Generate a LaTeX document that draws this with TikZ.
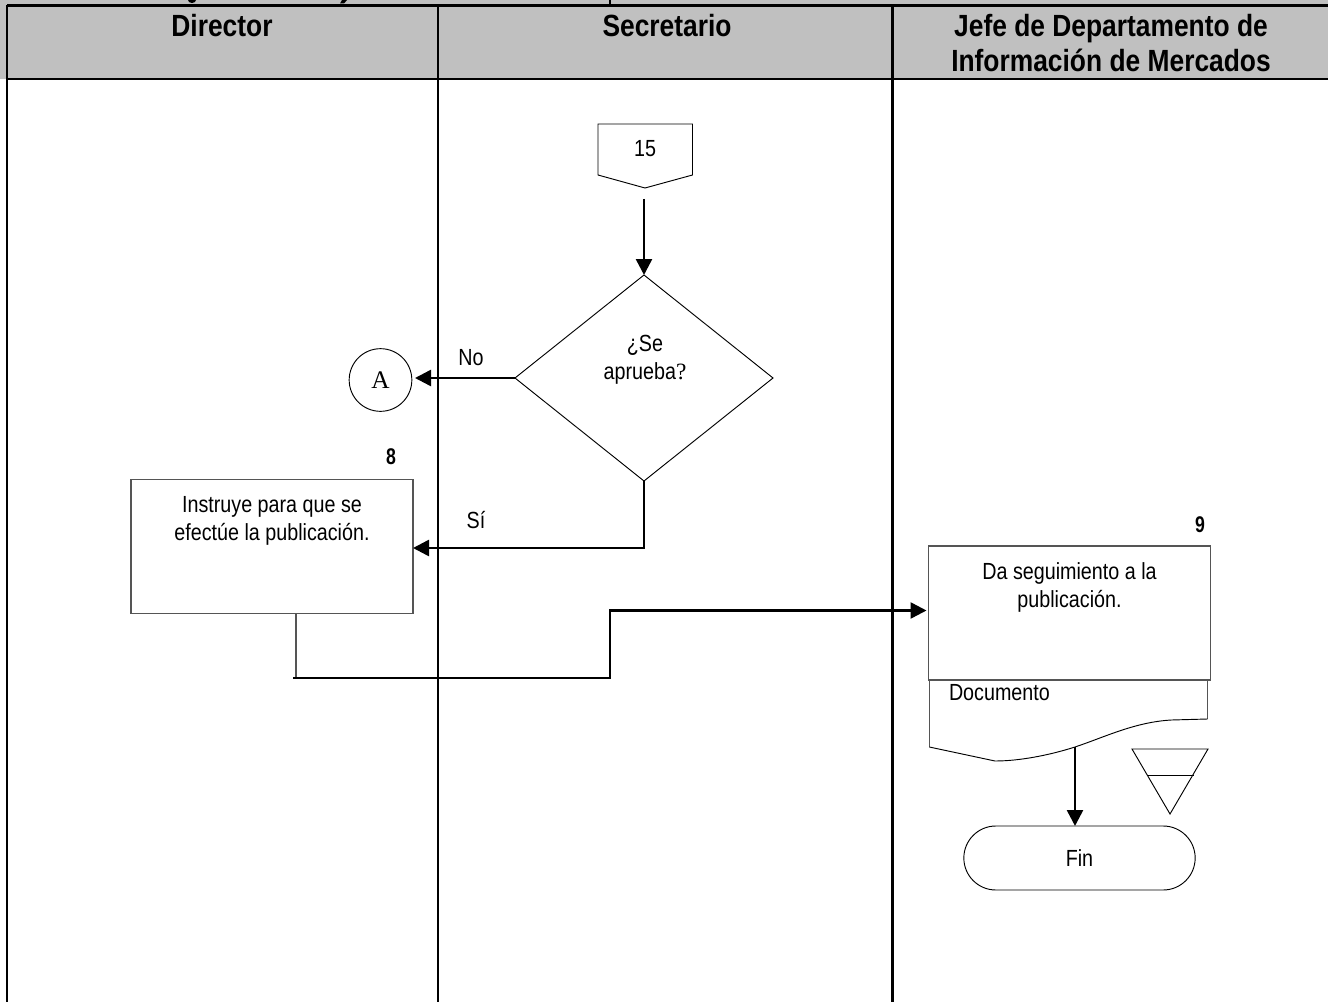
\documentclass[tikz,border=0pt]{standalone}
\usepackage{fontspec}
\setmainfont{Liberation Sans}
\newfontfamily\serifA{Liberation Serif}
\newfontfamily\bodyfam[FakeStretch=0.845]{Liberation Sans}
\newfontfamily\headfam[FakeStretch=0.86]{Liberation Sans}
\newfontfamily\numfam[FakeStretch=0.78]{Liberation Sans}
\usetikzlibrary{arrows.meta,shapes.geometric,shapes.misc}
\definecolor{headgray}{HTML}{C0C0C0}
\definecolor{boxline}{HTML}{555555}
\tikzset{
  every node/.style={inner sep=0pt,outer sep=0pt},
  rule/.style={draw=black,line width=1.6pt},
  thin shape/.style={draw=black,line width=.7pt},
  flow/.style={draw=black,line width=1.9pt,-{Triangle[length=12pt,width=12pt]}},
  stem/.style={draw=boxline,line width=.8pt},
  procbox/.style={rectangle,draw=boxline,line width=.8pt,align=center,font=\bodyf},
  head/.style={font=\headf,align=center},
  bodytext/.style={font=\bodyf,align=center},
  stepnum/.style={font=\numf},
}
\newcommand{\bodyf}{\bodyfam\fontsize{17.5}{21}\selectfont}
\newcommand{\headf}{\headfam\fontsize{23}{26.2}\selectfont\bfseries}
\newcommand{\numf}{\numfam\fontsize{17}{19}\selectfont\bfseries}
\begin{document}
\begin{tikzpicture}[x=.75pt,y=-.75pt]
\useasboundingbox (0,0) rectangle (1328,1002);
% header band
\fill[white] (0,0) rectangle (1328,1002);
\fill[headgray] (0,0) rectangle (1328,79);
% clipped title descenders
\fill[black] (192,0) ellipse (4 and 3);
\fill[black] (342,0) -- (347,0) -- (344,3.5) -- (340,3.5) -- cycle;
\fill[black] (608.5,0) rectangle (611,4);
% lanes
\coordinate (tl) at (7,5.5); \coordinate (tr) at (1328,5.5);
\coordinate (hl) at (7,79); \coordinate (hr) at (1328,79);
\coordinate (bl) at (7,1002);
\coordinate (c1t) at (438,5.5); \coordinate (c1b) at (438,1002);
\coordinate (c2t) at (892.5,5.5); \coordinate (c2b) at (892.5,1002);
\draw[rule] (tl) -- (tr);
\draw[rule] (hl) -- (hr);
\draw[rule,line width=1.2pt] (tl) -- (bl);
\draw[rule] (c1t) -- (c1b);
\draw[rule] (c2t) -- (c2b);
% headings
\node[head,anchor=center] (hd1) at (222,26) {Director};
\node[head,anchor=center] (hd2) at (667,26) {Secretario};
\node[head,anchor=center] (hd3) at (1111,43.5) {Jefe de Departamento de\\Información de Mercados};
% off-page connector
\coordinate (o1) at (598,124); \coordinate (o2) at (692.5,124); \coordinate (o3) at (692.5,175);
\coordinate (o4) at (645,188); \coordinate (o5) at (598,175);
\draw[thin shape] (o1) -- (o2) -- (o3) -- (o4) -- (o5) -- cycle;
\node[bodytext] (n15) at (645,149) {15};
% decision
\node[diamond,thin shape,minimum width=193.5pt,minimum height=154.5pt,aspect=1.25] (dec) at (644,378) {};
\node[bodytext] (dectext) at (645,360) {¿Se\\aprueba{\serifA ?}};
\coordinate (ofrom) at (dec.north |- o4);
\draw[flow] ([yshift=-8.2pt]ofrom) -- (dec.north);
% connector A
\node[circle,thin shape,minimum size=47pt,font=\serifA\fontsize{19}{22}\selectfont] (ca) at (380.5,380) {A};
\coordinate (atip) at (415,378);
\draw[flow] (dec.west) -- (dec.west -| atip);
\node[bodytext] (lno) at (471,358) {No};
% step 8
\node[stepnum] (s8) at (391,457) {8};
\node[procbox,minimum width=211.5pt,minimum height=101pt] (b8) at (272,546.5) {Instruye para que se\\efectúe la publicación.\\~\\~};
\coordinate (dmid) at (dec.south |- 0,548);
\coordinate (b8in) at (413,548);
\draw[thin shape,line width=.8pt] (dec.south) -- (dmid);
\draw[flow] ([xshift=.4pt]dmid) -- (b8in);
\node[bodytext] (lsi) at (476,520) {Sí};
% flow 8 to 9
\coordinate (b8stem) at (296,678);
\coordinate (hstart) at (293,678);
\coordinate (h2) at (610,678);
\coordinate (h3) at (610,610.5);
\coordinate (b9in) at (926.5,610.5);
\draw[stem] (b8.south -| b8stem) -- (b8stem);
\draw[flow] (hstart) -- (h2) -- (h3) -- (b9in);
% step 9
\node[stepnum] (s9) at (1200,525) {9};
\node[procbox,minimum width=211pt,minimum height=100.5pt] (b9) at (1069.5,613) {Da seguimiento a la\\publicación.\\~\\~};
% document
\coordinate (d1) at (929.3,680); \coordinate (d2) at (1207.7,680); \coordinate (d3) at (1207.7,719);
\coordinate (d4) at (1171.5,720); \coordinate (d5) at (1075,747); \coordinate (d6) at (995,761); \coordinate (d7) at (929.3,747);
\draw[stem] (d1) -- (d7);
\draw[stem] (d2) -- (d3);
\draw[thin shape] (d3) -- (d4) .. controls (1135,722) and (1105,737) .. (d5) .. controls (1050,755) and (1020,761) .. (d6) -- (d7);
\node[bodytext,anchor=west] (doc) at (949,693) {Documento};
% terminator
\node[rectangle,rounded rectangle,thin shape,minimum width=173.5pt,minimum height=48pt,bodytext] (fin) at (1079.5,858) {Fin};
\draw[flow] (d5) -- (d5 |- fin.north);
% storage triangle
\coordinate (t1) at (1132,749); \coordinate (t2) at (1208,749); \coordinate (t3) at (1170,814);
\coordinate (t4) at (1148,775); \coordinate (t5) at (1194,775);
\draw[thin shape] (t1) -- (t2) -- (t3) -- cycle;
\draw[thin shape] (t4) -- (t5);
\end{tikzpicture}
\end{document}
